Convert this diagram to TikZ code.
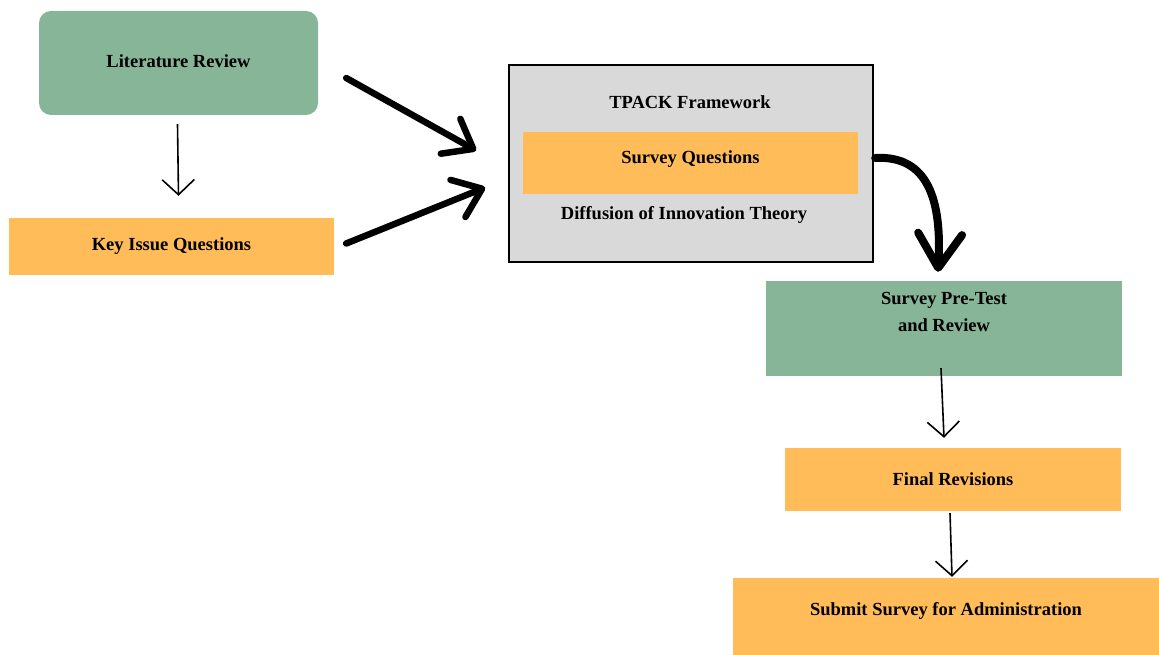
\documentclass[tikz,border=0pt]{standalone}
\usepackage{fontspec}
\setmainfont{Liberation Serif}
\usetikzlibrary{arrows.meta,calc}
\definecolor{boxgreen}{RGB}{135,181,152}
\definecolor{boxorange}{RGB}{255,188,89}
\definecolor{boxgray}{RGB}{217,217,217}

\begin{document}
\begin{tikzpicture}[x=1pt,y=-1pt,
    every node/.style={font=\fontsize{18.5}{27}\selectfont\bfseries,text=black,align=center,inner sep=0},
    greenbox/.style={fill=boxgreen,minimum width=#1},
    orangebox/.style={fill=boxorange,minimum width=#1},
    thinarrow/.style={line width=1.6pt,-{Straight Barb[length=15pt,width=32pt]}},
    bigarrow/.style={line width=6.5pt,line cap=round,-{Straight Barb[length=26pt,width=40pt,round]}}
  ]
\useasboundingbox (0,0) rectangle (1159,655);
\node[greenbox=279pt,minimum height=104pt,rounded corners=12pt,text depth=4pt] (lit) at (178.5,63) {Literature Review};
\node[orangebox=325pt,minimum height=57pt] (kiq) at (171.5,246.5) {Key Issue Questions};
\node[fill=boxgray,draw=black,line width=1.8pt,minimum width=364pt,minimum height=197pt] (tpack) at (691,163.5) {};
\node (tpacktitle) at (690,102) {TPACK Framework};
\node[orangebox=335pt,minimum height=62pt,text depth=12pt] (sq) at (690.5,163) {Survey Questions};
\node (doi) at (684,215) {Diffusion of Innovation Theory};
\node[greenbox=356pt,minimum height=95pt,text depth=34pt] (pre) at (944,328.5) {Survey Pre-Test\\and Review};
\node[orangebox=336pt,minimum height=63pt] (final) at (953,479.5) {Final Revisions};
\node[orangebox=426pt,minimum height=77pt,text depth=16pt] (submit) at (946,616.5) {Submit Survey for Administration};

\draw[thinarrow] ($(lit.south)+(-1,9)$) -- ($(kiq.north)+(7,-22)$);
\draw[bigarrow] ($(lit.east)+(28,15)$) -- ($(tpack.west)+(-32,-13)$);
\draw[bigarrow] ($(kiq.east)+(12,-3)$) -- ($(tpack.west)+(-23,24)$);
\draw[bigarrow,line width=8pt,-{Straight Barb[length=34pt,width=44pt,round]}] ($(sq.east)+(17,-5)$) .. controls (928,155) and (942,200) .. ($(pre.north)+(-6,-9)$);
\draw[thinarrow] ($(pre.south)+(-3,-8)$) -- ($(final.north)+(-9,-10)$);
\draw[thinarrow] ($(final.south)+(-3,2)$) -- ($(submit.north)+(6,-1)$);
\end{tikzpicture}
\end{document}
